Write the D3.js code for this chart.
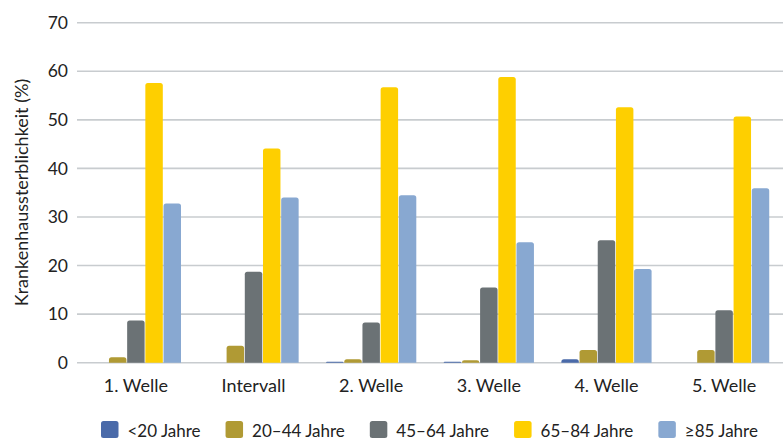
<!DOCTYPE html>
<html><head><meta charset="utf-8">
<script src="https://cdn.jsdelivr.net/npm/d3@7"></script>
<style>body{margin:0;background:#fff}svg{display:block}text{font-family:Lato,"Open Sans",sans-serif;fill:#222}</style>
</head><body><svg id="c" width="783" height="440"></svg>
<script>
const categories = ["1. Welle","Intervall","2. Welle","3. Welle","4. Welle","5. Welle"];
const seriesNames = ["<20 Jahre","20–44 Jahre","45–64 Jahre","65–84 Jahre","≥85 Jahre"];
const s_u20   = [0,   0,   0.2, 0.2, 0.7, 0];
const s_20_44 = [1.1, 3.5, 0.7, 0.5, 2.6, 2.6];
const s_45_64 = [8.7, 18.7, 8.3, 15.5, 25.2, 10.8];
const s_65_84 = [57.6, 44.1, 56.7, 58.8, 52.6, 50.7];
const s_85    = [32.8, 34.0, 34.5, 24.8, 19.3, 35.9];
const yTicks = [0,10,20,30,40,50,60,70];
const colors = ["#4a6aa9","#b09a34","#6b7275","#fecf00","#88a8d1"];
const series = [s_u20, s_20_44, s_45_64, s_65_84, s_85];

const svg = d3.select("#c");
const x0 = d3.scaleBand().domain(categories).range([77,783]).paddingInner(0.233).paddingOuter(0.117);
const x1 = d3.scaleBand().domain(d3.range(seriesNames.length)).range([0,x0.bandwidth()]).paddingInner(0.04);
const y = d3.scaleLinear().domain([0,70]).range([362.7,22.7]);

// grid
svg.append("g").selectAll("line").data(yTicks).join("line")
  .attr("x1",77).attr("x2",783).attr("y1",d=>y(d)).attr("y2",d=>y(d))
  .attr("stroke","#c8cccf").attr("stroke-width",1.6);

// y tick labels
svg.append("g").selectAll("text").data(yTicks).join("text")
  .attr("x",68).attr("y",d=>y(d)).attr("dy","0.35em").attr("text-anchor","end")
  .attr("font-size",17.5).text(d=>d);

// y label
svg.append("text").attr("transform","translate(22,192.5) rotate(-90)")
  .attr("text-anchor","middle").attr("dy","0.35em").attr("font-size",18).text("Krankenhaussterblichkeit (%)");

function topRounded(x,yTop,w,h,r){
  if(h<=0) return "";
  r=Math.min(r,h,w/2);
  return `M${x},${yTop+h}V${yTop+r}Q${x},${yTop} ${x+r},${yTop}H${x+w-r}Q${x+w},${yTop} ${x+w},${yTop+r}V${yTop+h}Z`;
}
const data = [];
categories.forEach((c,i)=>series.forEach((s,j)=>data.push({c,j,v:s[i]})));
svg.append("g").selectAll("path").data(data.filter(d=>d.v>0)).join("path")
  .attr("fill",d=>colors[d.j])
  .attr("d",d=>topRounded(x0(d.c)+x1(d.j), y(d.v), x1.bandwidth(), y(0)-y(d.v), 2.5));

// x labels
svg.append("g").selectAll("text").data(categories).join("text")
  .attr("x",d=>x0(d)+x0.bandwidth()/2).attr("y",391.5).attr("text-anchor","middle")
  .attr("font-size",18).text(d=>d);

// legend
const lg = svg.append("g");
let lx = 101;
seriesNames.forEach((n,i)=>{
  lg.append("rect").attr("x",lx).attr("y",421).attr("width",17.5).attr("height",17).attr("rx",2.5).attr("fill",colors[i]);
  const t = lg.append("text").attr("x",lx+26.5).attr("y",437).attr("font-size",17).text(n);
  lx += 26.5 + t.node().getComputedTextLength() + 25;
});
</script></body></html>
